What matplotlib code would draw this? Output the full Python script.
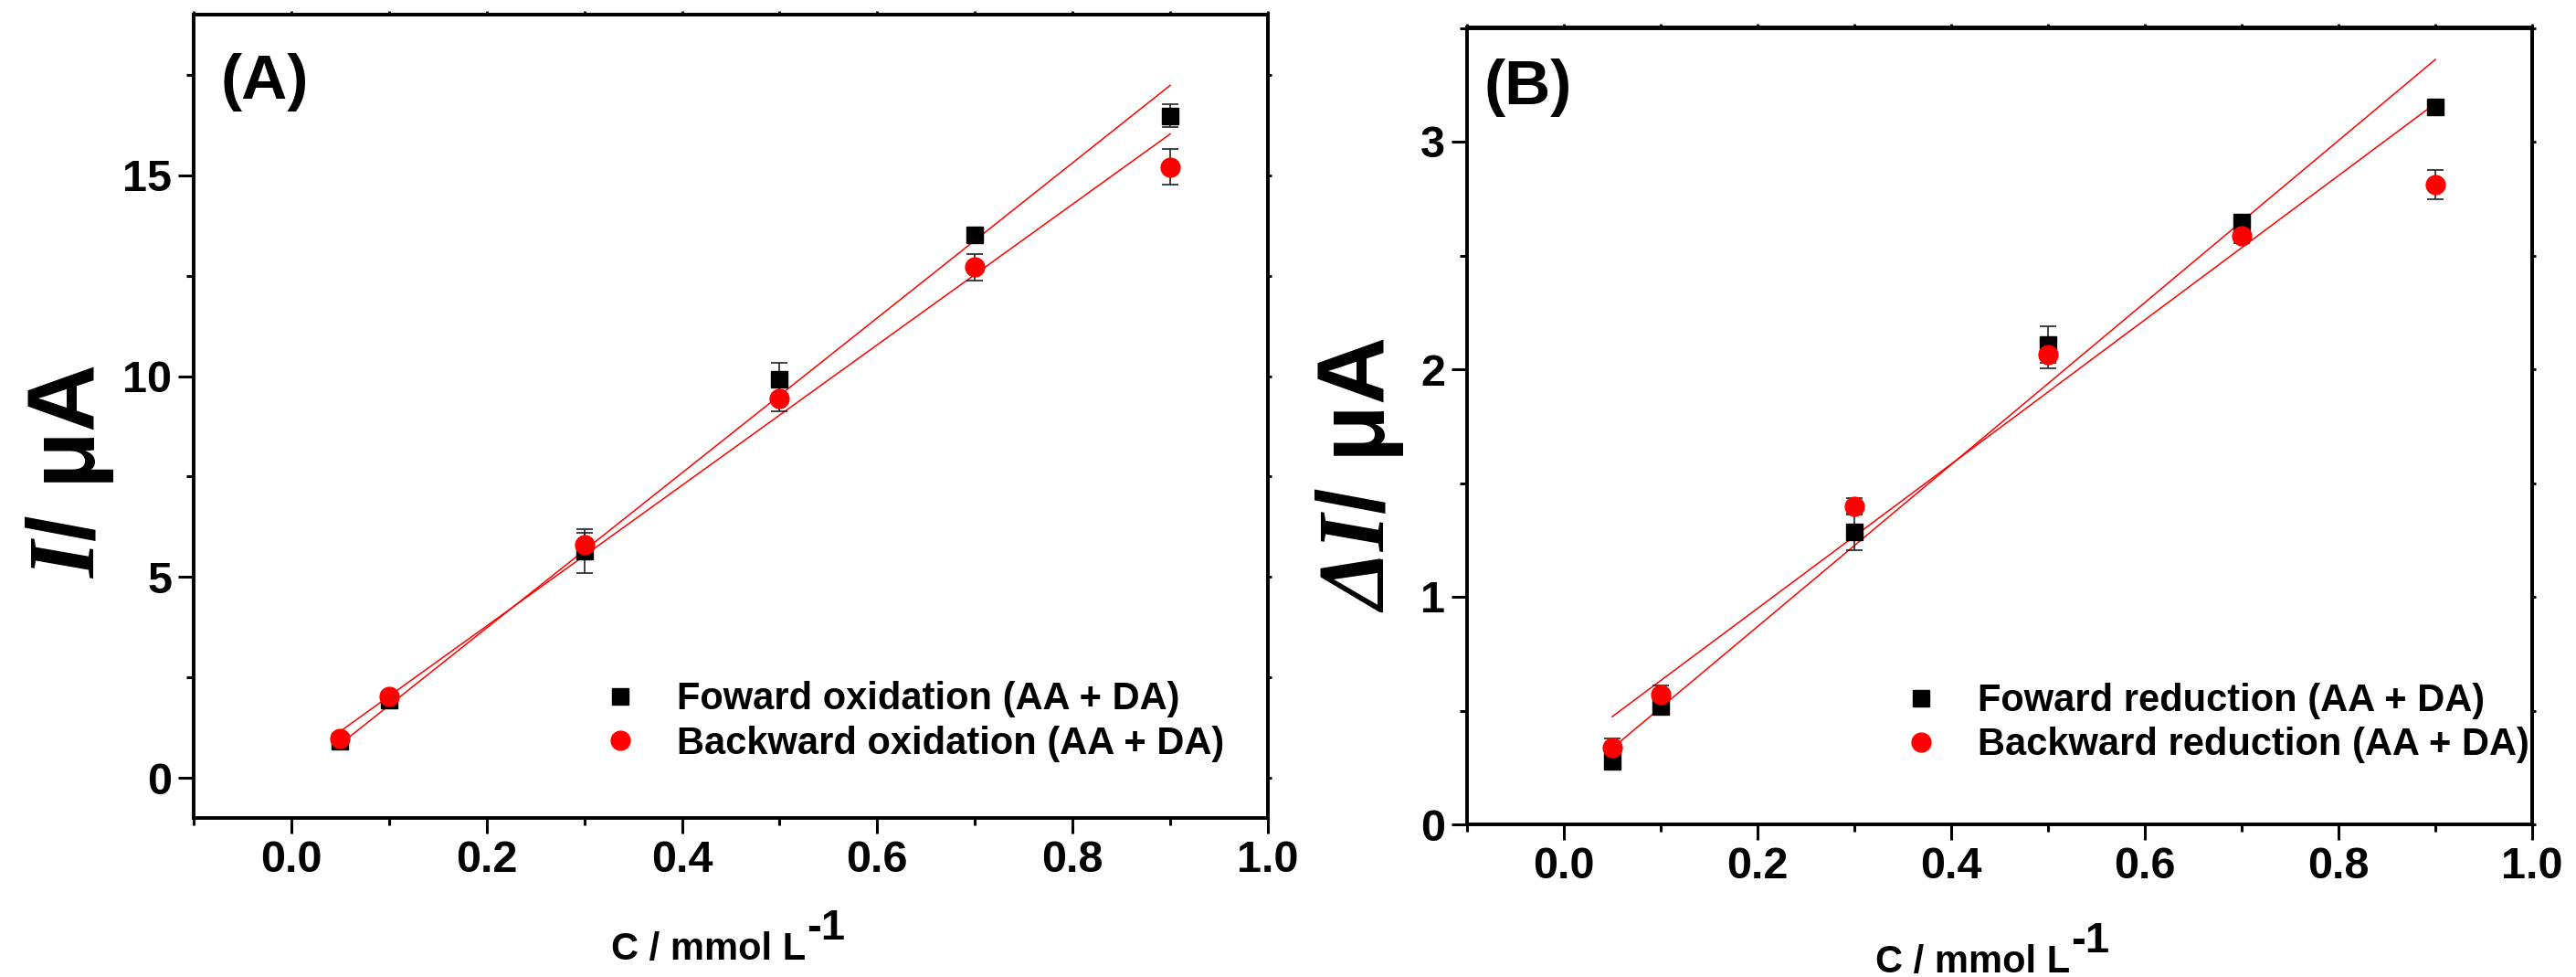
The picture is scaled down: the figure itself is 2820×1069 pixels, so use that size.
import matplotlib
matplotlib.use("Agg")
import matplotlib.pyplot as plt
from matplotlib.ticker import MultipleLocator
import numpy as np

plt.rcParams['font.family'] = ['Liberation Sans', 'DejaVu Sans']
plt.rcParams['font.weight'] = 'bold'
plt.rcParams['mathtext.fontset'] = 'custom'
plt.rcParams['mathtext.rm'] = 'Liberation Serif:italic:bold'
plt.rcParams['mathtext.it'] = 'Liberation Serif:italic:bold'
plt.rcParams['mathtext.bf'] = 'Liberation Sans:bold'
plt.rcParams['mathtext.sf'] = 'Liberation Sans:bold'

# Concentrations (mmol L-1)
conc = [0.05, 0.1, 0.3, 0.5, 0.7, 0.9]

# (A) oxidation peak currents (uA)
fwd_ox = [0.91, 1.94, 5.65, 9.93, 13.52, 16.48]
fwd_ox_err = [0.15, 0.15, 0.55, 0.39, 0.08, 0.28]
bwd_ox = [0.99, 2.03, 5.80, 9.44, 12.72, 15.21]
bwd_ox_err = [0.10, 0.10, 0.30, 0.32, 0.33, 0.45]
# linear fits (slope, intercept)
fit_fwd_ox = (19.3, -0.13)
fit_bwd_ox = (17.5, 0.28)

# (B) reduction peak currents (uA)
fwd_red = [0.277, 0.517, 1.286, 2.11, 2.648, 3.154]
fwd_red_err = [0.02, 0.03, 0.08, 0.08, 0.03, 0.01]
bwd_red = [0.336, 0.570, 1.398, 2.063, 2.585, 2.81]
bwd_red_err = [0.04, 0.04, 0.035, 0.06, 0.03, 0.065]
fit_fwd_red = (3.56, 0.157)
fit_bwd_red = (3.17, 0.315)

W, H = 2820, 1069
fig = plt.figure(figsize=(W / 100, H / 100), dpi=100)

axA = fig.add_axes([212 / W, 174 / H, 1176 / W, 879 / H])
axB = fig.add_axes([1606 / W, 167 / H, 1166 / W, 871.5 / H])


def draw_panel(ax, y1, e1, y2, e2, f1, f2, lab1, lab2):
    x = np.array(conc)
    for (s, b) in (f1, f2):
        ax.plot(x, s * x + b, color='red', lw=1.1, zorder=2)
    ax.errorbar(x, y1, yerr=e1, fmt='none', ecolor='#222222', elinewidth=1.2,
                capsize=6.5, capthick=1.2, zorder=3)
    ax.errorbar(x, y2, yerr=e2, fmt='none', ecolor='#222222', elinewidth=1.2,
                capsize=6.5, capthick=1.2, zorder=3)
    ax.plot(x, y1, ls='none', marker='s', ms=13, color='black',
            mec='black', label=lab1, zorder=4)
    ax.plot(x, y2, ls='none', marker='o', ms=15, color='red',
            mec='red', label=lab2, zorder=5)
    ax.set_xlim(-0.1, 1.0)
    ax.xaxis.set_major_locator(MultipleLocator(0.2))
    ax.xaxis.set_minor_locator(MultipleLocator(0.1))
    ax.xaxis.set_major_formatter(plt.FuncFormatter(lambda v, p: f"{v:.1f}"))
    for sp in ax.spines.values():
        sp.set_linewidth(2.8)
    ax.tick_params(which='major', direction='out', length=12, width=2.2,
                   labelsize=35, pad=5)
    ax.tick_params(which='minor', direction='out', length=6, width=2.2)


def tiny_ticks(ax):
    # short outward nubs along the top and right frame edges
    sx = ax.secondary_xaxis('top')
    sx.xaxis.set_major_locator(MultipleLocator(0.1))
    sx.tick_params(direction='out', length=3, width=2.0, labeltop=False)
    sx.spines['top'].set_linewidth(2.8)
    sy = ax.secondary_yaxis('right')
    sy.yaxis.set_major_locator(ax.yaxis.get_minor_locator())
    sy.tick_params(direction='out', length=3, width=2.0, labelright=False)
    sy.spines['right'].set_linewidth(2.8)


draw_panel(axA, fwd_ox, fwd_ox_err, bwd_ox, bwd_ox_err, fit_fwd_ox, fit_bwd_ox,
           'Foward oxidation (AA + DA)', 'Backward oxidation (AA + DA)')
axA.set_ylim(-1, 19)
axA.yaxis.set_major_locator(MultipleLocator(5))
axA.yaxis.set_minor_locator(MultipleLocator(2.5))

draw_panel(axB, fwd_red, fwd_red_err, bwd_red, bwd_red_err, fit_fwd_red, fit_bwd_red,
           'Foward reduction (AA + DA)', 'Backward reduction (AA + DA)')
axB.set_ylim(0, 3.5)
axB.yaxis.set_major_locator(MultipleLocator(1))
axB.yaxis.set_minor_locator(MultipleLocator(0.5))

legend_kw = dict(frameon=False, handlelength=1.0, handletextpad=1.0,
                 labelspacing=0.2, borderpad=0, borderaxespad=0,
                 prop={'family': ['Liberation Sans'], 'weight': 'bold', 'size': 30})
axA.legend(loc='center left', bbox_to_anchor=(0.379, 0.120), **legend_kw)
axB.legend(loc='center left', bbox_to_anchor=(0.408, 0.127), **legend_kw)

label_pos = {axA: (0.4796, -0.141), axB: (0.475, -0.150)}
for ax in (axA, axB):
    tiny_ticks(ax)
    ax.set_xlabel('C / mmol L', fontsize=30, fontweight='bold')
    ax.xaxis.set_label_coords(*label_pos[ax])
    ax.annotate('-1', xy=(1.0, 0.0), xycoords=ax.xaxis.label, xytext=(0.5, 22),
                textcoords='offset points', ha='left', va='baseline',
                fontsize=34, fontweight='bold', annotation_clip=False)

axA.text(0.025, 0.916, '(A)', transform=axA.transAxes, fontsize=50, fontweight='bold',
         ha='left', va='center')
axB.text(0.016, 0.925, '(B)', transform=axB.transAxes, fontsize=50, fontweight='bold',
         ha='left', va='center')

fig.text(76.5 / W, 1 - 516 / H, r'$\mathit{I}$/ μA', rotation=90, fontsize=74,
         fontweight='bold', ha='center', va='center')
fig.text(1489 / W, 1 - 519 / H, r'$\mathit{\Delta I}$/ μA', rotation=90, fontsize=74,
         fontweight='bold', ha='center', va='center')

fig.savefig('out.png', dpi=100)
